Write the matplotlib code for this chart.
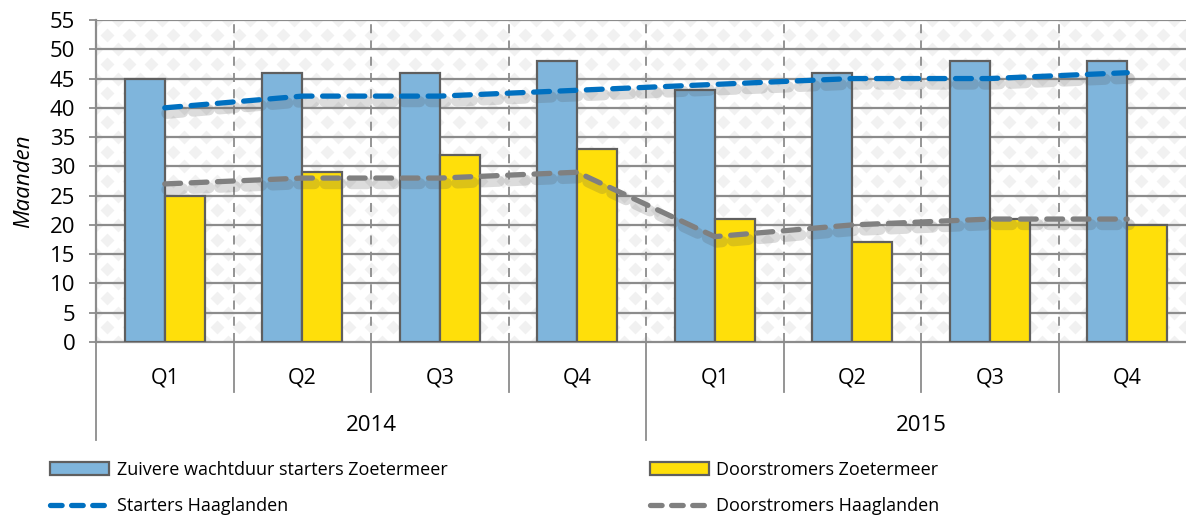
import numpy as np
import matplotlib
matplotlib.use('Agg')
import matplotlib.pyplot as plt
import matplotlib.patheffects as pe
from matplotlib.patches import Patch
from matplotlib.lines import Line2D
from matplotlib.transforms import blended_transform_factory

plt.rcParams['font.family'] = ['Open Sans', 'DejaVu Sans']

# data
quarters = ['Q1', 'Q2', 'Q3', 'Q4', 'Q1', 'Q2', 'Q3', 'Q4']
years = ['2014', '2015']
starters_ztm = [45, 46, 46, 48, 43, 46, 48, 48]
doorstromers_ztm = [25, 29, 32, 33, 21, 17, 21, 20]
starters_hgl = [40, 42, 42, 43, 44, 45, 45, 46]
doorstromers_hgl = [27, 28, 28, 29, 18, 20, 21, 21]

blue = '#7fb5dc'
yellow = '#ffdf0a'
edge = '#5f5f5f'
grid_c = '#8c8c8c'

fig = plt.figure(figsize=(11.86, 5.15), dpi=100)
ax = fig.add_axes([96 / 1186, 173 / 515, 1100 / 1186, 322 / 515])

x = np.arange(len(quarters))
w = 0.29

ax.set_xlim(-0.5, len(quarters) - 0.5)
ax.set_ylim(0, 55)

# background diamond pattern
xs = np.arange(-0.5, len(quarters) - 0.5 + 0.01, 0.16)
for k, yy in enumerate(np.arange(0, 55.1, 2.5)):
    off = 0.08 if k % 2 else 0
    ax.scatter(xs + off, np.full(len(xs), yy), marker='D', s=50, color='#f1f1f1',
               linewidths=0, zorder=0)

# grid
ax.set_yticks(np.arange(0, 56, 5))
for yy in np.arange(5, 56, 5):
    ax.axhline(yy, color=grid_c, lw=1.6, zorder=1)
for b in np.arange(0.5, len(quarters) - 0.5, 1):
    ax.axvline(b, color=grid_c, lw=1.3, ls=(0, (5, 4)), zorder=1)

ax.bar(x - w / 2, starters_ztm, w, color=blue, edgecolor=edge, lw=1.6, zorder=3)
ax.bar(x + w / 2, doorstromers_ztm, w, color=yellow, edgecolor=edge, lw=1.6, zorder=3)

shadow = [pe.SimpleLineShadow(offset=(1.5, -4), shadow_color='#505050', alpha=0.2, linewidth=8),
          pe.Normal()]
dash = (0, (3.0, 2.0))
ax.plot(x, starters_hgl, color='#0070c0', lw=3.8, ls=dash,
        dash_capstyle='round', zorder=4, path_effects=shadow)
ax.plot(x, doorstromers_hgl, color='#808080', lw=3.8, ls=dash,
        dash_capstyle='round', zorder=4, path_effects=shadow)

# axes styling
for s in ['top', 'right']:
    ax.spines[s].set_visible(False)
ax.spines['left'].set_color(grid_c)
ax.spines['left'].set_linewidth(1.6)
ax.spines['bottom'].set_color(grid_c)
ax.spines['bottom'].set_linewidth(1.6)
ax.tick_params(axis='y', length=5, width=1.3, color=grid_c, labelsize=16, pad=10)
ax.set_xticks([])
ax.set_ylabel('Maanden', fontsize=16, style='italic', labelpad=11)

# two level category axis
tr = blended_transform_factory(ax.transData, ax.transAxes)
for i, q in enumerate(quarters):
    ax.text(i, -0.112, q, transform=tr, ha='center', va='center', fontsize=15.5)
for b in np.arange(-0.5, len(quarters), 1):
    long_line = (b % 4) == 3.5 or b == -0.5
    y_end = -0.304 if long_line else -0.155
    ax.plot([b, b], [0, y_end], transform=tr, color=grid_c, lw=1.3, clip_on=False)
n_per_year = len(quarters) // len(years)
for j, yr in enumerate(years):
    ax.text(j * n_per_year + (n_per_year - 1) / 2, -0.258, yr, transform=tr,
            ha='center', va='center', fontsize=16)

handles = [
    Patch(facecolor=blue, edgecolor=edge, lw=1.6),
    Line2D([], [], color='#0070c0', lw=3.8, ls=(0, (2.2, 1.8)), dash_capstyle='round'),
    Patch(facecolor=yellow, edgecolor=edge, lw=1.6),
    Line2D([], [], color='#808080', lw=3.8, ls=(0, (2.2, 1.8)), dash_capstyle='round'),
]
labels = ['Zuivere wachtduur starters Zoetermeer', 'Starters Haaglanden',
          'Doorstromers Zoetermeer', 'Doorstromers Haaglanden']
fig.legend(handles, labels, ncol=2, loc='upper left', bbox_to_anchor=(0.042, 0.105),
           frameon=False, fontsize=13, handlelength=3.3, handleheight=0.7,
           handletextpad=0.4, columnspacing=11.2, labelspacing=1.0,
           borderaxespad=0, borderpad=0)

fig.savefig('out.png', dpi=100)
